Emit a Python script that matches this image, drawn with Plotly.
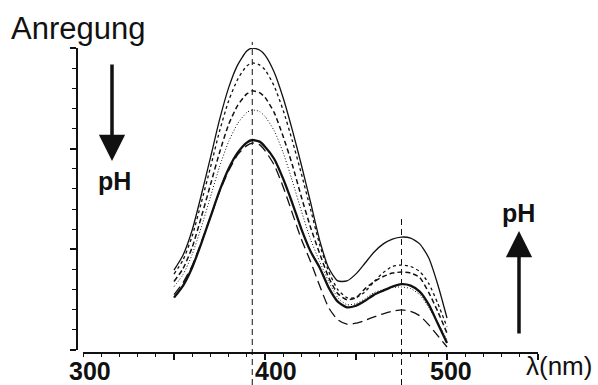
import plotly.graph_objects as go

# wavelength grid (nm)
wavelength = [350, 355, 360, 365, 370, 375, 380, 385, 390, 393, 397, 400, 405, 410, 415,
              420, 425, 430, 435, 440, 445, 450, 455, 460, 465, 470, 475, 480, 485, 490, 495, 500]

# excitation spectra (arbitrary units), six pH values
spec_solid_top = [3.97, 4.72, 5.96, 7.70, 9.54, 11.43, 13.02, 14.16, 14.85, 15.00, 14.90, 14.65, 13.81, 12.52, 10.93,
                  9.19, 7.35, 5.46, 4.07, 3.43, 3.43, 3.78, 4.32, 4.87, 5.27, 5.51, 5.61, 5.56, 5.27, 4.57, 3.23, 1.59]
spec_dotted = [3.77, 4.48, 5.66, 7.32, 9.06, 10.86, 12.37, 13.45, 14.11, 14.26, 14.16, 13.92, 13.12, 11.90, 10.40,
               8.75, 7.00, 5.25, 3.90, 3.00, 2.60, 2.60, 2.90, 3.40, 3.85, 4.15, 4.22, 4.15, 3.90, 3.30, 2.30, 1.14]
spec_dashed = [3.40, 4.05, 5.10, 6.60, 8.20, 9.80, 11.20, 12.15, 12.72, 12.87, 12.78, 12.55, 11.80, 10.60, 9.20,
               7.60, 6.10, 4.80, 3.60, 2.80, 2.50, 2.60, 3.05, 3.40, 3.65, 3.82, 3.87, 3.82, 3.60, 2.85, 1.90, 0.84]
spec_fine_dot = [3.15, 3.75, 4.75, 6.10, 7.60, 9.10, 10.35, 11.25, 11.80, 11.92, 11.85, 11.60, 10.90, 9.80, 8.40,
                 6.90, 5.50, 4.40, 3.40, 2.60, 2.25, 2.30, 2.55, 2.85, 3.00, 3.10, 3.13, 3.05, 2.75, 2.10, 1.35, 0.50]
spec_solid_low = [2.60, 3.20, 4.10, 5.30, 6.60, 7.90, 9.00, 9.80, 10.30, 10.43, 10.35, 10.10, 9.50, 8.50, 7.30,
                  6.00, 4.90, 4.10, 3.10, 2.40, 2.12, 2.20, 2.45, 2.75, 2.95, 3.15, 3.27, 3.20, 2.90, 2.25, 1.30, 0.35]
spec_longdash = [2.75, 3.35, 4.20, 5.35, 6.60, 7.85, 8.90, 9.70, 10.15, 10.28, 10.20, 9.90, 9.20, 8.10, 6.80,
                 5.50, 4.40, 3.20, 2.10, 1.50, 1.28, 1.33, 1.47, 1.65, 1.80, 1.92, 1.99, 1.92, 1.70, 1.25, 0.70, 0.15]

peak_lines = [393, 475]
x_labels = ["300", "400", "500"]
x_label_pos = [304, 406, 502]

FONT = "Liberation Sans, Arial, sans-serif"
INK = "#111111"

series = [
    (spec_solid_top, "solid", 1.3),
    (spec_dotted, "dot", 1.3),
    (spec_dashed, "5px,3px", 1.5),
    (spec_fine_dot, "1px,2px", 1.0),
    (spec_solid_low, "solid", 2.3),
    (spec_longdash, "10px,5px", 1.3),
]

fig = go.Figure()
for vals, dash, w in series:
    fig.add_trace(go.Scatter(
        x=wavelength, y=vals, mode="lines",
        line=dict(color=INK, width=w, dash=dash, shape="spline", smoothing=0.6),
        showlegend=False, hoverinfo="skip"))

# vertical dashed lines at the two excitation maxima
tops = [0.891, 0.436]
for xv, top in zip(peak_lines, tops):
    fig.add_shape(type="line", xref="x", yref="paper", x0=xv, x1=xv, y0=0, y1=top,
                  line=dict(color=INK, width=1, dash="6px,4px"), layer="above")

# tick labels
for lab, pos in zip(x_labels, x_label_pos):
    fig.add_annotation(x=pos, y=1 - 371 / 385, xref="x", yref="paper", text=lab, showarrow=False,
                       font=dict(family=FONT, size=25, color=INK, weight="bold"),
                       xanchor="center", yanchor="middle")

fig.add_annotation(x=559 / 598, y=1 - 366 / 385, xref="paper", yref="paper", text="λ(nm)", showarrow=False,
                   font=dict(family=FONT, size=26, color=INK), xanchor="center", yanchor="middle")
fig.add_annotation(x=9 / 598, y=1 - 28 / 385, xref="paper", yref="paper", text="Anregung", showarrow=False,
                   font=dict(family=FONT, size=31, color=INK), xanchor="left", yanchor="middle")

# pH arrows
fig.add_annotation(x=112 / 598, y=1 - 161 / 385, xref="paper", yref="paper", ax=0, ay=-98,
                   text="", showarrow=True, arrowhead=2, arrowsize=1.5, arrowwidth=3.5, arrowcolor=INK)
fig.add_annotation(x=114 / 598, y=1 - 181 / 385, xref="paper", yref="paper", text="pH", showarrow=False,
                   font=dict(family=FONT, size=25, color=INK, weight="bold"), xanchor="center", yanchor="middle")
fig.add_annotation(x=519 / 598, y=1 - 231 / 385, xref="paper", yref="paper", ax=0, ay=104,
                   text="", showarrow=True, arrowhead=2, arrowsize=1.5, arrowwidth=3.5, arrowcolor=INK)
fig.add_annotation(x=518 / 598, y=1 - 213 / 385, xref="paper", yref="paper", text="pH", showarrow=False,
                   font=dict(family=FONT, size=25, color=INK, weight="bold"), xanchor="center", yanchor="middle")

fig.update_layout(
    width=598, height=385,
    margin=dict(l=0, r=0, t=0, b=0),
    paper_bgcolor="white", plot_bgcolor="white",
    xaxis=dict(range=[300, 550], domain=[83 / 598, 538 / 598], anchor="free", position=1 - 353 / 385,
               showgrid=False, zeroline=False, showline=True, linecolor=INK, linewidth=2,
               ticks="outside", tickvals=[350, 400, 450, 500, 550], ticklen=6, tickwidth=1.5, tickcolor=INK,
               showticklabels=False,
               minor=dict(ticks="outside", dtick=10, tick0=300, ticklen=3, tickwidth=1, tickcolor=INK)),
    yaxis=dict(range=[0, 15], domain=[1 - 350 / 385, 1 - 48 / 385], anchor="free", position=77 / 598,
               showgrid=False, zeroline=False, showline=True, linecolor=INK, linewidth=2,
               ticks="outside", dtick=5, tick0=0, ticklen=6, tickwidth=1.5, tickcolor=INK,
               showticklabels=False,
               minor=dict(ticks="outside", dtick=1, ticklen=4, tickwidth=1, tickcolor=INK)),
)

fig.write_html("out.html")
